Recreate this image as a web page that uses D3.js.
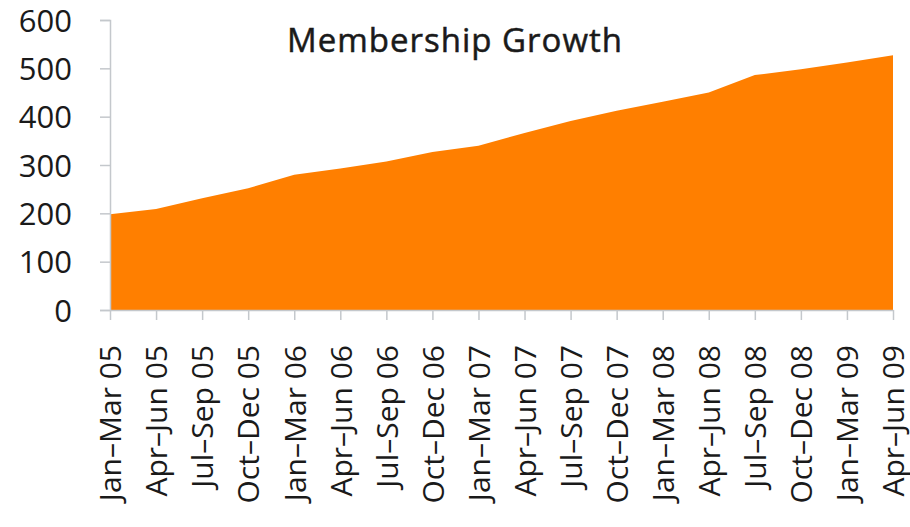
<!DOCTYPE html>
<html>
<head>
<meta charset="utf-8">
<script src="https://cdn.jsdelivr.net/npm/d3@7"></script>
<style>
  body { margin: 0; background: #fff; }
  text { font-family: "Open Sans", sans-serif; fill: #1a1a1a; }
</style>
</head>
<body>
<div id="chart"></div>
<script>
const quarters = ["Jan–Mar 05", "Apr–Jun 05", "Jul–Sep 05", "Oct–Dec 05",
  "Jan–Mar 06", "Apr–Jun 06", "Jul–Sep 06", "Oct–Dec 06",
  "Jan–Mar 07", "Apr–Jun 07", "Jul–Sep 07", "Oct–Dec 07",
  "Jan–Mar 08", "Apr–Jun 08", "Jul–Sep 08", "Oct–Dec 08",
  "Jan–Mar 09", "Apr–Jun 09"];
const members = [198, 209, 231, 252, 280, 293, 307, 327, 340, 366, 391, 412, 431, 450, 486, 498, 512, 527];
const yTicks = [0, 100, 200, 300, 400, 500, 600];

var outerWidth = 910, outerHeight = 527;
var margin = { top: 20, right: 17, bottom: 217, left: 110 },
    width = outerWidth - margin.left - margin.right,
    height = outerHeight - margin.top - margin.bottom;

var svg = d3.select("#chart").append("svg")
    .attr("width", outerWidth)
    .attr("height", outerHeight);

var g = svg.append("g")
    .attr("transform", "translate(" + margin.left + "," + margin.top + ")");

var x = d3.scalePoint()
    .domain(quarters)
    .range([0, width]);

var y = d3.scaleLinear()
    .domain([0, 600])
    .range([height, 0]);

var data = quarters.map((q, i) => ({ q: q, v: members[i] }));

var area = d3.area()
    .x(d => x(d.q))
    .y0(height)
    .y1(d => y(d.v));

g.append("path")
    .datum(data)
    .attr("d", area)
    .attr("fill", "#ff7f00");

// y axis
var yAxis = g.append("g")
    .call(d3.axisLeft(y).tickValues(yTicks).tickSize(10).tickPadding(28));
yAxis.select(".domain").attr("stroke", "#c4c8cc").attr("stroke-width", 1.5);
yAxis.selectAll(".tick line").attr("stroke", "#c4c8cc").attr("stroke-width", 1.5);
yAxis.selectAll("text")
    .attr("font-size", "31px")
    .attr("dy", "0.36em");

// x axis, labels turned to read bottom-up
var xAxis = g.append("g")
    .attr("transform", "translate(0," + height + ")")
    .call(d3.axisBottom(x).tickSize(10).tickSizeOuter(0));
xAxis.select(".domain").attr("stroke", "#c4c8cc").attr("stroke-width", 1.5);
xAxis.selectAll(".tick line").attr("stroke", "#c4c8cc").attr("stroke-width", 1.5);
xAxis.selectAll("text")
    .attr("font-size", "30px")
    .attr("text-anchor", "end")
    .attr("transform", "rotate(-90)")
    .attr("x", -35)
    .attr("y", 0)
    .attr("dy", "0.36em");

svg.append("text")
    .attr("x", 455)
    .attr("y", 52)
    .attr("text-anchor", "middle")
    .attr("font-size", "33px")
    .attr("letter-spacing", "1px")
    .style("stroke", "#1a1a1a")
    .style("stroke-width", "0.5px")
    .text("Membership Growth");
</script>
</body>
</html>
